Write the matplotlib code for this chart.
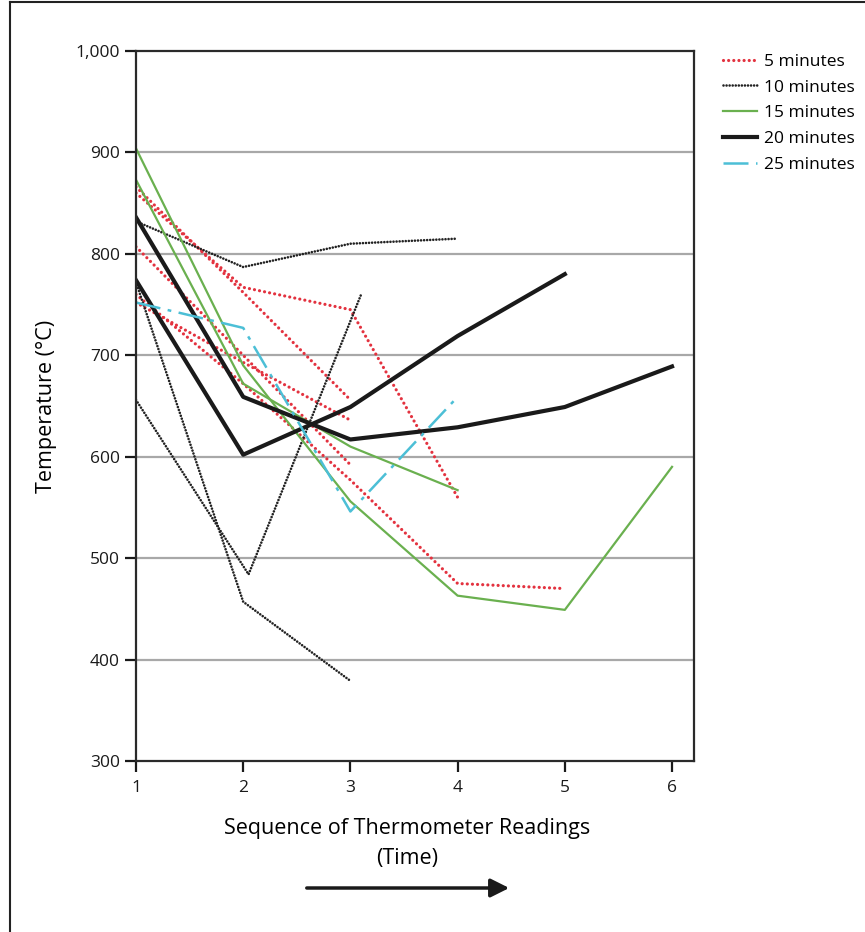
import matplotlib.pyplot as plt
from matplotlib.lines import Line2D
from matplotlib.ticker import StrMethodFormatter

plt.rcParams['font.family'] = ['Open Sans', 'DejaVu Sans']

# readings (x = sequence number, y = temperature in C), one list per run
red_x = [[1, 2, 3, 4], [1, 2, 3], [1, 2, 3], [1, 2, 3], [1, 2, 3, 4, 5]]
red_y = [[860, 767, 745, 560], [866, 762, 656], [807, 700, 592],
         [752, 693, 636], [760, 672, 577, 475, 470]]

dot_x = [[1, 2, 3, 4], [1, 2.05, 3.1], [1, 2, 3]]
dot_y = [[832, 787, 810, 815], [656, 484, 760], [772, 457, 379]]

green_x = [[1, 2, 3, 4, 5, 6], [1, 2, 3, 4]]
green_y = [[904, 690, 556, 463, 449, 590], [873, 672, 610, 567]]

black_x = [[1, 2, 3, 4, 5, 6], [1, 2, 3, 4, 5]]
black_y = [[836, 659, 617, 629, 649, 689], [774, 602, 649, 719, 780]]

cyan_x = [[1, 2, 3, 4]]
cyan_y = [[752, 727, 546, 659]]

labels = ['5 minutes', '10 minutes', '15 minutes', '20 minutes', '25 minutes']

styles = [
    dict(color='#e3323f', lw=2.3, ls=(0, (0.01, 1.6)), dash_capstyle='round'),
    dict(color='#222222', lw=1.9, ls=(0, (0.01, 1.15)), dash_capstyle='round'),
    dict(color='#6ab04f', lw=1.6, ls='-'),
    dict(color='#1a1a1a', lw=3.0, ls='-'),
    dict(color='#4cbfd6', lw=1.8, ls=(0, (10, 3, 1.5, 3))),
]

fig = plt.figure(figsize=(8.65, 9.32), dpi=100)
ax = fig.add_axes([136 / 865, 1 - 761 / 932, 558 / 865, 710 / 932])

for gy in range(400, 1000, 100):
    ax.axhline(gy, color='#a8a8a8', lw=1.6, zorder=0)

groups = [(red_x, red_y), (dot_x, dot_y), (green_x, green_y),
          (black_x, black_y), (cyan_x, cyan_y)]
for (xs, ys), st in zip(groups, styles):
    for x, y in zip(xs, ys):
        ax.plot(x, y, **st)

ax.set_xlim(1, 6.205)
ax.set_ylim(300, 1000)
ax.set_xticks(range(1, 7))
ax.set_yticks(range(300, 1001, 100))
ax.yaxis.set_major_formatter(StrMethodFormatter('{x:,.0f}'))
ax.tick_params(direction='out', length=8, width=1.6, labelsize=12.5, colors='#1a1a1a')
ax.tick_params(axis='x', pad=6)
for s in ax.spines.values():
    s.set_linewidth(1.6)
    s.set_color('#2a2a2a')

ax.set_ylabel('Temperature (°C)', fontsize=15.5)
ax.yaxis.set_label_coords(-0.141, 0.5)
ax.set_xlabel('Sequence of Thermometer Readings\n(Time)', fontsize=15.5, linespacing=1.55)
ax.xaxis.set_label_coords(0.486, -0.08)

handles = [Line2D([], [], **st) for st in styles]
fig.legend(handles, labels, loc='upper left', bbox_to_anchor=(714 / 865, 1 - 45 / 932),
           frameon=False, fontsize=12.5, handlelength=2.0, handletextpad=0.4,
           labelspacing=0.55, borderpad=0)

ax.annotate('', xy=(512 / 865, 1 - 888 / 932), xytext=(304 / 865, 1 - 888 / 932),
            xycoords='figure fraction',
            arrowprops=dict(arrowstyle='-|>', color='#1a1a1a', lw=2.5, mutation_scale=28))

# page border (left and top)
fig.add_artist(Line2D([10 / 865, 10 / 865], [0, 1 - 2 / 932], color='#222222', lw=1.5))
fig.add_artist(Line2D([10 / 865, 1], [1 - 2 / 932, 1 - 2 / 932], color='#222222', lw=1.5))

fig.savefig('out.png', dpi=100)
